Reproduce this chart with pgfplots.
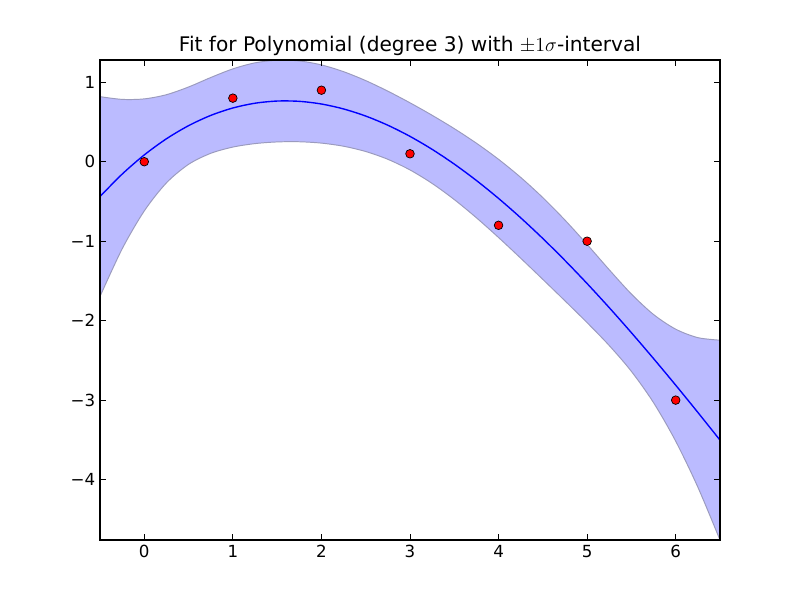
\documentclass[border=0pt]{standalone}
\usepackage{fontspec}
\setmainfont{DejaVu Sans}
\usepackage{pgfplots}
\usepackage{pgfplotstable}
\usepgfplotslibrary{fillbetween}
\pgfplotsset{compat=1.18}
\definecolor{bandfill}{RGB}{187,187,255}
\definecolor{bandedge}{RGB}{155,155,190}

\pgfplotstableread{
x up lo mean
-0.5 0.8189 -1.6954 -0.4382
-0.25 0.7844 -1.0967 -0.1561
0 0.7906 -0.6191 0.0857
0.25 0.8433 -0.2661 0.2886
0.5 0.9403 -0.0329 0.4537
0.75 1.0594 0.1056 0.5825
1 1.1682 0.1842 0.6762
1.25 1.2442 0.2280 0.7361
1.5 1.2780 0.2491 0.7635
1.75 1.2683 0.2513 0.7598
2 1.2182 0.2342 0.7262
2.25 1.1332 0.1948 0.6640
2.5 1.0206 0.1285 0.5746
2.75 0.8879 0.0304 0.4591
3 0.7414 -0.1033 0.3190
3.25 0.5843 -0.2732 0.1556
3.5 0.4162 -0.4760 -0.0299
3.75 0.2331 -0.7054 -0.2362
4 0.0301 -0.9539 -0.4619
4.25 -0.1973 -1.2143 -0.7058
4.5 -0.4521 -1.4810 -0.9665
4.75 -0.7347 -1.7509 -1.2428
5 -1.0414 -2.0253 -1.5333
5.25 -1.3599 -2.3137 -1.8368
5.5 -1.6653 -2.6386 -2.1519
5.75 -1.9227 -3.0321 -2.4774
6 -2.1071 -3.5167 -2.8119
6.25 -2.2136 -4.0947 -3.1542
6.5 -2.2457 -4.7599 -3.5028
}\fittable

\pgfplotstableread{
x y
0 0
1 0.8
2 0.9
3 0.1
4 -0.8
5 -1
6 -3
}\datatable

\begin{document}
\begin{tikzpicture}
\begin{axis}[
  at={(0,0)}, anchor=south west,
  scale only axis, width=446.4bp, height=345.6bp,
  xmin=-0.5, xmax=6.5, ymin=-4.76, ymax=1.28,
  xtick={0,1,2,3,4,5,6}, xticklabels={0,1,2,3,4,5,6},
  ytick={-4,-3,-2,-1,0,1}, yticklabels={−4,−3,−2,−1,0,1},
  tick align=inside, major tick length=4bp,
  tick style={black, line width=0.6bp},
  axis line style={black, line width=0.8bp},
  ticklabel style={font=\fontsize{12bp}{14bp}\selectfont},
  title={Fit for Polynomial (degree 3) with $\pm1\sigma$-interval},
  title style={font=\fontsize{14.5bp}{17bp}\selectfont, at={(0.5,1)}, anchor=base},
  axis on top,
]
\addplot[name path=up, draw=none, smooth] table[x=x, y=up] {\fittable};
\addplot[name path=lo, draw=none, smooth] table[x=x, y=lo] {\fittable};
\addplot[bandfill, draw=none] fill between[of=up and lo];
\addplot[bandedge, line width=0.7bp, smooth] table[x=x, y=up] {\fittable};
\addplot[bandedge, line width=0.7bp, smooth] table[x=x, y=lo] {\fittable};
\addplot[blue, line width=1bp, smooth] table[x=x, y=mean] {\fittable};
\addplot[only marks, mark=*, mark size=3.1bp, mark options={fill=red, draw=black, line width=0.5bp}] table[x=x, y=y] {\datatable};
\end{axis}
\path (-72bp,-43.2bp) rectangle (504bp,388.8bp);
\end{tikzpicture}
\end{document}
